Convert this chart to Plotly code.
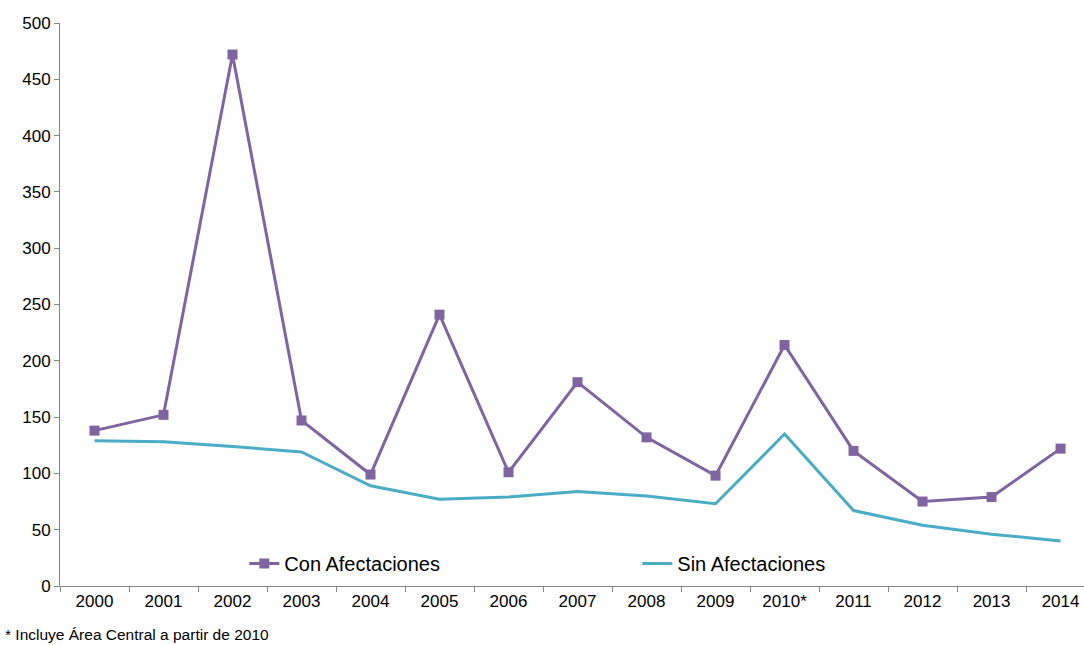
import plotly.graph_objects as go

years = ["2000", "2001", "2002", "2003", "2004", "2005", "2006", "2007",
         "2008", "2009", "2010*", "2011", "2012", "2013", "2014"]
con_afectaciones = [138, 152, 472, 147, 99, 241, 101, 181, 132, 98, 214, 120, 75, 79, 122]
sin_afectaciones = [129, 128, 124, 119, 89, 77, 79, 84, 80, 73, 135, 67, 54, 46, 40]

PURPLE = "#8064A2"
CYAN = "#4BACC6"
AXIS = "#868686"
FONT = "Liberation Sans, Arial, sans-serif"

fig = go.Figure()
fig.add_trace(go.Scatter(
    x=years, y=con_afectaciones, name="Con Afectaciones",
    mode="lines+markers",
    line=dict(color=PURPLE, width=3),
    marker=dict(symbol="square", size=10, color=PURPLE),
))
fig.add_trace(go.Scatter(
    x=years, y=sin_afectaciones, name="Sin Afectaciones",
    mode="lines",
    line=dict(color=CYAN, width=3),
))

fig.update_layout(
    width=1084, height=645,
    margin=dict(l=60, r=0, t=23, b=59, autoexpand=False),
    paper_bgcolor="white", plot_bgcolor="white",
    font=dict(family=FONT, color="#000000", size=16),
    showlegend=True,
    legend=dict(
        orientation="h", x=0.18, y=0.04, xanchor="left", yanchor="middle",
        font=dict(size=20), entrywidth=348, entrywidthmode="pixels",
        bgcolor="rgba(0,0,0,0)",
    ),
    xaxis=dict(
        type="category", range=[-0.5, 14.34],
        showline=True, linecolor=AXIS, linewidth=1,
        ticks="outside", tickson="boundaries", ticklen=5, tickcolor=AXIS,
        showgrid=False, zeroline=False,
        tickfont=dict(size=17),
    ),
    yaxis=dict(
        range=[0, 500], tick0=0, dtick=50,
        showline=True, linecolor=AXIS, linewidth=1,
        ticks="outside", ticklen=5, tickcolor=AXIS,
        showgrid=False, zeroline=False,
        tickfont=dict(size=17),
    ),
    annotations=[dict(
        text="* Incluye Área Central a partir de 2010",
        xref="paper", yref="paper", x=-0.0557, y=-0.087,
        xanchor="left", yanchor="middle", showarrow=False,
        font=dict(size=15.5),
    )],
)

fig.write_html("out.html")
